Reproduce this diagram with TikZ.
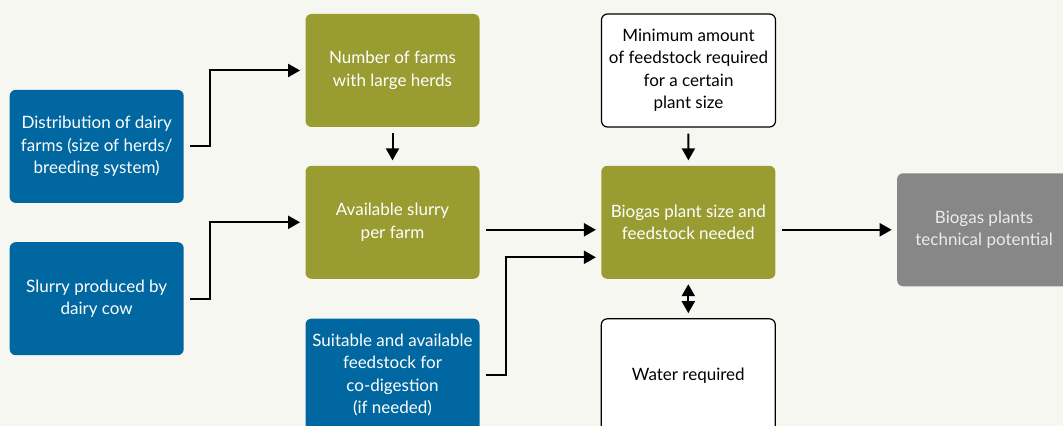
\documentclass[tikz,border=0pt]{standalone}
\usepackage{fontspec}
\setmainfont{Lato}
\usetikzlibrary{arrows.meta, positioning, calc}

\definecolor{bgcol}{HTML}{F7F7F2}
\definecolor{dairyblue}{HTML}{0067A0}
\definecolor{olive}{HTML}{999D31}
\definecolor{potgray}{HTML}{878787}

\begin{document}
\begin{tikzpicture}[x=0.5pt, y=-0.5pt, node distance=19pt and 60.5pt,
    box/.style={rounded corners=3pt, minimum width=87pt, minimum height=56.5pt,
                align=center, inner sep=2pt,
                font=\fontsize{8.5}{11.25}\selectfont},
    bluebox/.style={box, fill=dairyblue, text=white},
    greenbox/.style={box, fill=olive, text=white},
    whitebox/.style={box, draw=black, line width=0.6pt, fill=white},
    graybox/.style={box, fill=potgray, text=black!8},
    arr/.style={-{Triangle[length=6pt, width=6.5pt]}, line width=1pt,
                shorten <=3pt, shorten >=2.5pt}]
  \path[use as bounding box, fill=bgcol] (0,0) rectangle (1063,426);
  \clip (0,0) rectangle (1063,426);

  % middle column
  \node[greenbox] (farms) at (392.5,70.5) {Number of farms\\with large herds};
  \node[greenbox, below=of farms] (avail) {Available slurry\\per farm};
  \node[bluebox, below=19.5pt of avail] (suit)
    {Suitable and available\\feedstock for\\co-digestion\\(if needed)};

  % left column
  \coordinate (mid1) at ($(farms.west)!0.5!(avail.west)$);
  \coordinate (mid2) at ($(avail.west)!0.5!(suit.west)$);
  \node[bluebox, left=of mid1] (dist)
    {Distribution of dairy\\farms (size of herds/\\breeding system)};
  \node[bluebox, left=of mid2] (cow) {Slurry produced by\\dairy cow};

  % plant column
  \node[whitebox, right=of farms] (minfeed)
    {Minimum amount\\of feedstock required\\for a certain\\plant size};
  \node[greenbox, right=of avail] (plant)
    {Biogas plant size and\\feedstock needed};
  \node[whitebox, below=19.5pt of plant] (water) {Water required};
  \node[graybox, right=of plant, yshift=-3.75pt] (potential)
    {Biogas plants\\technical potential};

  \draw[arr] (dist.east) -- ++(13pt,0) |- (farms.west);
  \draw[arr] (cow.east) -- ++(13pt,0) |- (avail.west);
  \draw[arr] (farms) -- (avail);
  \draw[arr] ([yshift=-3.75pt]avail.east) -- ([yshift=-3.75pt]plant.west);
  \draw[arr] (suit.east) -- ++(13pt,0) |- ([yshift=-17.5pt]plant.west);
  \draw[arr] (minfeed) -- (plant);
  \draw[arr, {Triangle[length=6pt, width=6.5pt]}-{Triangle[length=6pt, width=6.5pt]},
        shorten <=2.5pt] (plant) -- (water);
  \draw[arr] ([yshift=-3.75pt]plant.east) -- (potential.west);
\end{tikzpicture}
\end{document}
